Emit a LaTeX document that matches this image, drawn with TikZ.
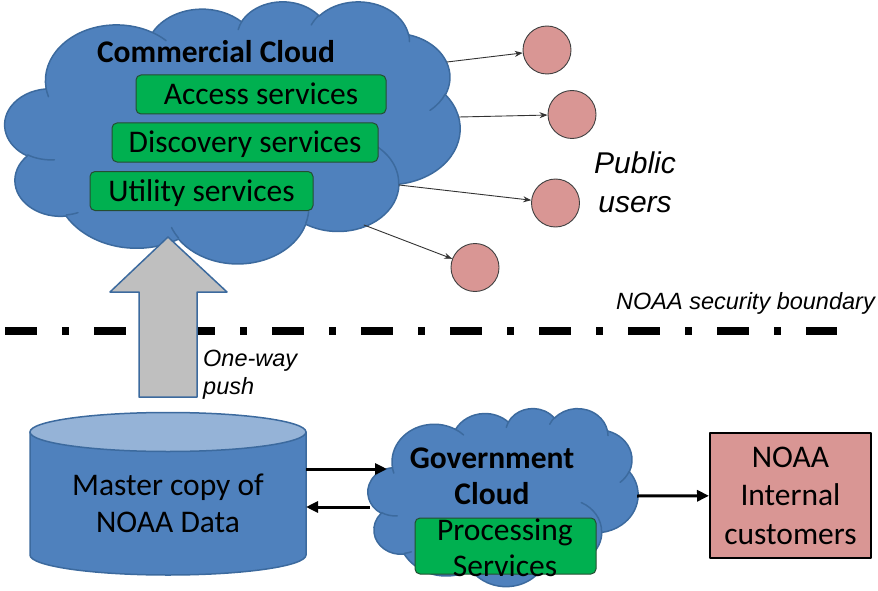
\documentclass[tikz,border=0pt]{standalone}
\usepackage{fontspec}
\setmainfont{Carlito}
\newfontfamily\arialfont{Liberation Sans}
\usetikzlibrary{arrows.meta}
\definecolor{cloudblue}{HTML}{4F81BD}
\definecolor{cloudline}{HTML}{3C6A9E}
\definecolor{boxgreen}{HTML}{00B050}
\definecolor{svcline}{HTML}{254D32}
\definecolor{userpink}{HTML}{D99694}
\definecolor{cyltop}{HTML}{95B3D7}
\definecolor{pushgray}{HTML}{BFBFBF}
\def\bigfont{\fontsize{31.5}{37}\selectfont}
% cloud outline and creases, in a 432 x 432 box
\def\cloudoutline{(39.00,143.70)
	arc[start angle=-187.747, end angle=-59.635, x radius=67.53, y radius=91.90]
	arc[start angle=-152.025, end angle=-45.456, x radius=53.33, y radius=72.67]
	arc[start angle=-153.488, end angle=-37.33, x radius=43.65, y radius=59.45]
	arc[start angle=-139.715, end angle=-10.212, x radius=48.57, y radius=65.95]
	arc[start angle=-74.768, end angle=23.21, x radius=53.33, y radius=72.73]
	arc[start angle=-37.527, end angle=81.862, x radius=67.75, y radius=92.20]
	arc[start angle=0.460, end angle=121.976, x radius=57.85, y radius=78.67]
	arc[start angle=16.845, end angle=146.238, x radius=67.52, y radius=92.15]
	arc[start angle=58.989, end angle=150.186, x radius=77.20, y radius=105.43]
	arc[start angle=-276.694, end angle=-136.894, x radius=43.60, y radius=59.18]
	arc[start angle=-239.644, end angle=-95.887, x radius=43.45, y radius=59.45]
	-- cycle}
\def\cloudcreases{(46.93,261.77) arc[start angle=85.547, end angle=120.356, x radius=43.45, y radius=59.45]
	(69.28,348.99) arc[start angle=68.24, end angle=83.306, x radius=43.60, y radius=59.18]
	(164.78,390.90) arc[start angle=146.238, end angle=158.474, x radius=67.52, y radius=92.15]
	(288.27,347.51) arc[start angle=4.738, end angle=16.845, x radius=67.52, y radius=92.15]
	(341.29,229.54) arc[start angle=-64.029, end angle=0.460, x radius=57.85, y radius=78.67]
	(417.98,153.54) arc[start angle=23.21, end angle=49.64, x radius=53.33, y radius=72.73]
	(383.24,54.26) arc[start angle=-10.212, end angle=0.821, x radius=48.57, y radius=65.95]
	(290.78,39.52) arc[start angle=-156.282, end angle=-139.715, x radius=48.57, y radius=65.95]
	(221.41,47.20) arc[start angle=-167.727, end angle=-153.488, x radius=43.65, y radius=59.45]
	(140.00,51.92) arc[start angle=-59.635, end angle=-45.733, x radius=67.53, y radius=91.90]
	(41.27,157.89) arc[start angle=163.193, end angle=172.253, x radius=67.53, y radius=91.90]}
% #1,#2 top left corner, #3,#4 scale
\newcommand{\cloudshape}[4]{%
	\begin{scope}[shift={(#1,#2)}, x=#3pt, y=-#4pt]
		\path[fill=cloudblue, draw=cloudline, line width=1.5pt] \cloudoutline;
		\draw[cloudline, line width=1.5pt] \cloudcreases;
	\end{scope}}
\begin{document}
\begin{tikzpicture}[x=1pt, y=-1pt, font=\bigfont, line join=round, line cap=round, >=stealth,
	service/.style={draw=svcline, line width=1pt, fill=boxgreen, rounded corners=5pt, inner sep=0pt, text height=20.5pt, text depth=0pt},
	user/.style={circle, draw=black!75, line width=0.9pt, fill=userpink, minimum size=48pt, inner sep=0pt},
	feed/.style={draw=black!80, line width=0.9pt, -{Stealth[length=8pt,width=6pt]}},
	link/.style={line width=3pt, line cap=butt, -{Triangle[length=12pt,width=11pt]}},
	note/.style={font=\arialfont\itshape\fontsize{23.5}{28}\selectfont, inner sep=0pt}]
	\useasboundingbox (0,0) rectangle (878,591);
	% security boundary
	\path (5,331) coordinate (bL) (837,331) coordinate (bR);
	\draw[line width=7.5pt, line cap=butt, dash pattern=on 32pt off 25pt on 7pt off 25pt] (bL)--(bR);
	\node[note, anchor=base east] (sb) at (875,309) {NOAA security boundary};
	% commercial cloud
	\cloudshape{5}{1}{1.05324}{0.60648}
	\node[font=\bfseries\bigfont, text height=20.5pt, text depth=0pt, inner sep=0pt] (cc) at (216,52) {Commercial Cloud};
	\foreach \n/\x/\y/\w/\t in {acc/261/94.5/250/Access services, dis/245/142.5/266/Discovery services, uti/201.5/191/223/Utility services}
	\node[service, minimum width=\w pt, minimum height=39pt] (\n) at (\x,\y) {\t};
	% public users
	\foreach \n/\x/\y in {u1/547/50, u2/572/114.5, u3/555.5/203, u4/475/267.5}
	\node[user] (\n) at (\x,\y) {};
	\path (447,62) coordinate (s1) (459,117) coordinate (s2) (399,185) coordinate (s3) (364,225) coordinate (s4);
	\foreach \i in {1,...,4}
	\draw[feed] (s\i)--(u\i);
	\node[note, font=\arialfont\itshape\fontsize{30}{39}\selectfont, align=center] (pu) at (635,182.5) {Public\\users};
	% one-way push
	\draw[fill=pushgray, draw=cloudline, line width=1.5pt] (139,397) -- (139,292) -- (110,292) -- (168,237) -- (227,292) -- (197,292) -- (197,397) -- cycle;
	\node[note, align=left, anchor=west] (ow) at (203,374.6) {One-way\\push};
	% master copy
	\draw[fill=cloudblue, draw=cloudline, line width=1.5pt] (30,432) -- (30,555) arc[start angle=180, end angle=360, x radius=138pt, y radius=20pt] -- (306,432);
	\draw[fill=cyltop, draw=cloudline, line width=1.5pt] (168,432) ellipse [x radius=138pt, y radius=19.5pt];
	\node[align=center, inner sep=0pt] (db) at (168,503) {Master copy of\\NOAA Data};
	% government cloud
	\cloudshape{368}{408}{0.625}{0.41204}
	\node[font=\bfseries\fontsize{31.5}{36}\selectfont, align=center, inner sep=0pt] (gc) at (492,476.5) {Government\\Cloud};
	\node[service, minimum width=181pt, minimum height=56pt] (ps) at (505.5,546) {};
	\node[font=\fontsize{31.5}{36}\selectfont, align=center, inner sep=0pt] (pst) at (505,547.5) {Processing\\Services};
	% internal customers
	\node[draw, line width=2pt, fill=userpink, minimum width=161pt, minimum height=125pt, inner sep=0pt, align=center, font=\fontsize{31.5}{38.5}\selectfont] (ic) at (790.5,495.5) {NOAA\\Internal\\customers};
	\path (306,469) coordinate (dbR1) (387,469) coordinate (gcL1) (370,507) coordinate (gcL2) (306,507) coordinate (dbR2) (637,496) coordinate (gcR);
	\foreach \x/\y in {dbR1/gcL1, gcL2/dbR2, gcR/ic}
	\draw[link] (\x)--(\y);
\end{tikzpicture}
\end{document}
